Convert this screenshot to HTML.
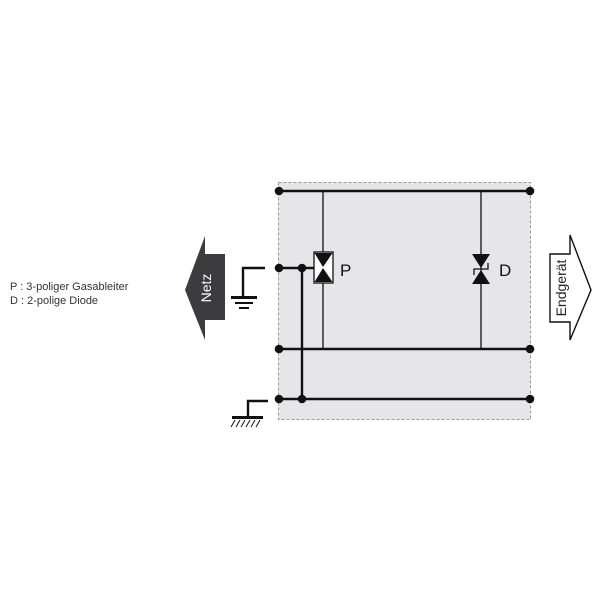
<!DOCTYPE html>
<html><head><style>body{margin:0;background:#fff}</style></head><body>
<svg width="600" height="600" viewBox="0 0 600 600" xmlns="http://www.w3.org/2000/svg" font-family="Liberation Sans, sans-serif">
<rect x="278.5" y="182.5" width="252" height="237" fill="#e6e6e8" stroke="#999" stroke-dasharray="3,2"/>
<g stroke="#111" stroke-width="2.4" fill="none">
<line x1="279" y1="191" x2="530" y2="191"/>
<line x1="279" y1="349" x2="530" y2="349"/>
<line x1="279" y1="399" x2="530" y2="399"/>
<line x1="279" y1="268" x2="314" y2="268"/>
<line x1="302" y1="268" x2="302" y2="399"/>
<polyline points="265,268 243,268 243,297"/>
<polyline points="268,401 248,401 248,418"/>
</g>
<g stroke="#111" stroke-width="1.3">
<line x1="323" y1="191" x2="323" y2="349"/>
<line x1="481" y1="191" x2="481" y2="349"/>
</g>
<g fill="#111">
<circle cx="279" cy="191" r="4.3"/><circle cx="530" cy="191" r="4.3"/>
<circle cx="279" cy="268" r="4.3"/><circle cx="302" cy="268" r="4.3"/>
<circle cx="279" cy="349" r="4.3"/><circle cx="530" cy="349" r="4.3"/>
<circle cx="279" cy="399" r="4.3"/><circle cx="302" cy="399" r="4.3"/><circle cx="530" cy="399" r="4.3"/>
<rect x="231" y="296" width="26" height="3"/>
<rect x="235" y="302" width="18" height="2"/>
<rect x="239" y="307" width="10" height="2"/>
<rect x="232" y="416" width="31" height="3"/>
</g>
<g stroke="#111" stroke-width="1">
<line x1="235" y1="420" x2="231" y2="427"/><line x1="240" y1="420" x2="236" y2="427"/><line x1="245" y1="420" x2="241" y2="427"/><line x1="250" y1="420" x2="246" y2="427"/><line x1="255" y1="420" x2="251" y2="427"/><line x1="260" y1="420" x2="256" y2="427"/>
</g>
<rect x="314" y="252" width="19" height="31" fill="#fff" stroke="#111" stroke-width="1.3"/>
<polygon points="314.5,253 332.5,253 323,267" fill="#111"/>
<polygon points="314.5,282 332.5,282 323,268" fill="#111"/>
<text x="340" y="276" font-size="17" fill="#111">P</text>
<polygon points="472,254 490,254 481,268" fill="#111"/>
<polygon points="472,284 490,284 481,270" fill="#111"/>
<polyline points="474,275 474,269 488,269 488,263" fill="none" stroke="#111" stroke-width="1.3"/>
<text x="499" y="276" font-size="17" fill="#111">D</text>
<polygon points="225,254 225,320 205,320 205,340 185,290 205,236 205,254" fill="#3c3c3e"/>
<text transform="translate(211,288) rotate(-90)" font-size="14" fill="#fff" text-anchor="middle">Netz</text>
<polygon points="550,254 570,254 570,235 591,290 570,340 570,322 550,322" fill="#fff" stroke="#111" stroke-width="1.4"/>
<text transform="translate(566,288) rotate(-90)" font-size="14" fill="#222" text-anchor="middle">Endgerät</text>
<text x="10" y="290" font-size="11" fill="#333">P : 3-poliger Gasableiter</text>
<text x="10" y="304" font-size="11" fill="#333">D : 2-polige Diode</text>
</svg>
</body></html>
